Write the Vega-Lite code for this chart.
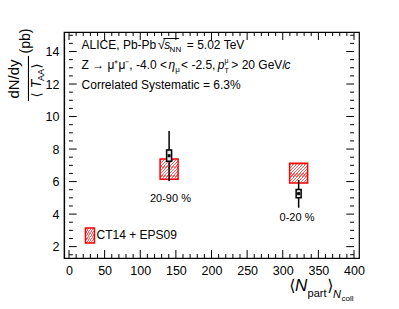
{
  "$schema": "https://vega.github.io/schema/vega-lite/v6.json",
  "width": 295,
  "height": 226,
  "autosize": {"type": "none"},
  "padding": {"left": 64, "top": 32, "right": 40, "bottom": 51},
  "background": "white",
  "config": {
    "view": {"stroke": "black", "strokeWidth": 1.2},
    "axis": {"grid": false, "domainColor": "black", "domainWidth": 1.2, "tickColor": "black", "labelColor": "black", "labelFont": "Liberation Sans", "labelFontSize": 12.5, "labelFlush": false, "labelOverlap": false}
  },
  "datasets": {
    "xmaj": [{"v": 0}, {"v": 50}, {"v": 100}, {"v": 150}, {"v": 200}, {"v": 250}, {"v": 300}, {"v": 350}, {"v": 400}],
    "xmin": [{"v": 10}, {"v": 20}, {"v": 30}, {"v": 40}, {"v": 60}, {"v": 70}, {"v": 80}, {"v": 90}, {"v": 110}, {"v": 120}, {"v": 130}, {"v": 140}, {"v": 160}, {"v": 170}, {"v": 180}, {"v": 190}, {"v": 210}, {"v": 220}, {"v": 230}, {"v": 240}, {"v": 260}, {"v": 270}, {"v": 280}, {"v": 290}, {"v": 310}, {"v": 320}, {"v": 330}, {"v": 340}, {"v": 360}, {"v": 370}, {"v": 380}, {"v": 390}],
    "ymaj": [{"v": 2}, {"v": 4}, {"v": 6}, {"v": 8}, {"v": 10}, {"v": 12}, {"v": 14}],
    "ymin": [{"v": 1.5}, {"v": 2.5}, {"v": 3}, {"v": 3.5}, {"v": 4.5}, {"v": 5}, {"v": 5.5}, {"v": 6.5}, {"v": 7}, {"v": 7.5}, {"v": 8.5}, {"v": 9}, {"v": 9.5}, {"v": 10.5}, {"v": 11}, {"v": 11.5}, {"v": 12.5}, {"v": 13}, {"v": 13.5}, {"v": 14.5}, {"v": 15}],
    "zdata": [
      {"cent": "20-90 %", "npart": 140.5, "dndy": 7.59, "stat_lo": 6.04, "stat_hi": 9.11, "sys_lo": 7.25, "sys_hi": 7.94, "model_lo": 6.14, "model_hi": 7.39},
      {"cent": "0-20 %", "npart": 322.3, "dndy": 5.26, "stat_lo": 4.39, "stat_hi": 6.10, "sys_lo": 5.01, "sys_hi": 5.52, "model_lo": 5.91, "model_hi": 7.12}
    ]
  },
  "data": {"name": "zdata"},
  "resolve": {"axis": {"x": "independent", "y": "independent"}},
  "layer": [
    {
      "mark": {"type": "bar", "size": 18, "stroke": "red", "strokeWidth": 1.5,
        "fill": {"gradient": "linear", "x1": 0, "y1": 0, "x2": 1, "y2": 1, "stops": [
          {"offset": 0, "color": "white"},
          {"offset": 0.0242, "color": "white"}, {"offset": 0.0242, "color": "#ff5a5a"}, {"offset": 0.0592, "color": "#ff5a5a"}, {"offset": 0.0592, "color": "white"},
          {"offset": 0.1075, "color": "white"}, {"offset": 0.1075, "color": "#ff5a5a"}, {"offset": 0.1425, "color": "#ff5a5a"}, {"offset": 0.1425, "color": "white"},
          {"offset": 0.1908, "color": "white"}, {"offset": 0.1908, "color": "#ff5a5a"}, {"offset": 0.2258, "color": "#ff5a5a"}, {"offset": 0.2258, "color": "white"},
          {"offset": 0.2742, "color": "white"}, {"offset": 0.2742, "color": "#ff5a5a"}, {"offset": 0.3092, "color": "#ff5a5a"}, {"offset": 0.3092, "color": "white"},
          {"offset": 0.3575, "color": "white"}, {"offset": 0.3575, "color": "#ff5a5a"}, {"offset": 0.3925, "color": "#ff5a5a"}, {"offset": 0.3925, "color": "white"},
          {"offset": 0.4408, "color": "white"}, {"offset": 0.4408, "color": "#ff5a5a"}, {"offset": 0.4758, "color": "#ff5a5a"}, {"offset": 0.4758, "color": "white"},
          {"offset": 0.5242, "color": "white"}, {"offset": 0.5242, "color": "#ff5a5a"}, {"offset": 0.5592, "color": "#ff5a5a"}, {"offset": 0.5592, "color": "white"},
          {"offset": 0.6075, "color": "white"}, {"offset": 0.6075, "color": "#ff5a5a"}, {"offset": 0.6425, "color": "#ff5a5a"}, {"offset": 0.6425, "color": "white"},
          {"offset": 0.6908, "color": "white"}, {"offset": 0.6908, "color": "#ff5a5a"}, {"offset": 0.7258, "color": "#ff5a5a"}, {"offset": 0.7258, "color": "white"},
          {"offset": 0.7742, "color": "white"}, {"offset": 0.7742, "color": "#ff5a5a"}, {"offset": 0.8092, "color": "#ff5a5a"}, {"offset": 0.8092, "color": "white"},
          {"offset": 0.8575, "color": "white"}, {"offset": 0.8575, "color": "#ff5a5a"}, {"offset": 0.8925, "color": "#ff5a5a"}, {"offset": 0.8925, "color": "white"},
          {"offset": 0.9408, "color": "white"}, {"offset": 0.9408, "color": "#ff5a5a"}, {"offset": 0.9758, "color": "#ff5a5a"}, {"offset": 0.9758, "color": "white"},
          {"offset": 1, "color": "white"}
        ]}},
      "encoding": {
        "x": {"field": "npart", "type": "quantitative", "scale": {"domain": [0, 400], "nice": false, "zero": false},
          "axis": {"orient": "bottom", "title": null, "values": [0, 50, 100, 150, 200, 250, 300, 350, 400], "ticks": false, "labelPadding": 6}},
        "y": {"field": "model_lo", "type": "quantitative", "scale": {"domain": [1.3, 15.2], "nice": false, "zero": false},
          "axis": {"orient": "left", "title": null, "values": [2, 4, 6, 8, 10, 12, 14], "ticks": false, "labelPadding": 5}},
        "y2": {"field": "model_hi"}
      }
    },
    {
      "data": {"name": "xmaj"},
      "mark": {"type": "rule", "color": "black", "strokeWidth": 1},
      "encoding": {"x": {"field": "v", "type": "quantitative", "axis": null}, "y": {"datum": 1.3, "type": "quantitative", "axis": null}, "y2": {"datum": 1.792}}
    },
    {
      "data": {"name": "xmaj"},
      "mark": {"type": "rule", "color": "black", "strokeWidth": 1},
      "encoding": {"x": {"field": "v", "type": "quantitative", "axis": null}, "y": {"datum": 15.2, "type": "quantitative", "axis": null}, "y2": {"datum": 14.708}}
    },
    {
      "data": {"name": "xmin"},
      "mark": {"type": "rule", "color": "black", "strokeWidth": 1},
      "encoding": {"x": {"field": "v", "type": "quantitative", "axis": null}, "y": {"datum": 1.3, "type": "quantitative", "axis": null}, "y2": {"datum": 1.546}}
    },
    {
      "data": {"name": "xmin"},
      "mark": {"type": "rule", "color": "black", "strokeWidth": 1},
      "encoding": {"x": {"field": "v", "type": "quantitative", "axis": null}, "y": {"datum": 15.2, "type": "quantitative", "axis": null}, "y2": {"datum": 14.954}}
    },
    {
      "data": {"name": "ymaj"},
      "mark": {"type": "rule", "color": "black", "strokeWidth": 1},
      "encoding": {"y": {"field": "v", "type": "quantitative", "axis": null}, "x": {"datum": 0, "type": "quantitative", "axis": null}, "x2": {"datum": 10.85}}
    },
    {
      "data": {"name": "ymaj"},
      "mark": {"type": "rule", "color": "black", "strokeWidth": 1},
      "encoding": {"y": {"field": "v", "type": "quantitative", "axis": null}, "x": {"datum": 400, "type": "quantitative", "axis": null}, "x2": {"datum": 389.15}}
    },
    {
      "data": {"name": "ymin"},
      "mark": {"type": "rule", "color": "black", "strokeWidth": 1},
      "encoding": {"y": {"field": "v", "type": "quantitative", "axis": null}, "x": {"datum": 0, "type": "quantitative", "axis": null}, "x2": {"datum": 5.42}}
    },
    {
      "data": {"name": "ymin"},
      "mark": {"type": "rule", "color": "black", "strokeWidth": 1},
      "encoding": {"y": {"field": "v", "type": "quantitative", "axis": null}, "x": {"datum": 400, "type": "quantitative", "axis": null}, "x2": {"datum": 394.58}}
    },
    {
      "mark": {"type": "rule", "color": "black", "strokeWidth": 1.5},
      "encoding": {"x": {"field": "npart", "type": "quantitative", "axis": null}, "y": {"field": "stat_lo", "type": "quantitative", "axis": null}, "y2": {"field": "stat_hi"}}
    },
    {
      "mark": {"type": "bar", "size": 5, "fill": "#e8e8e8", "stroke": "black", "strokeWidth": 1.5},
      "encoding": {"x": {"field": "npart", "type": "quantitative", "axis": null}, "y": {"field": "sys_lo", "type": "quantitative", "axis": null}, "y2": {"field": "sys_hi"}}
    },
    {
      "mark": {"type": "square", "size": 9, "color": "black", "filled": true, "opacity": 1},
      "encoding": {"x": {"field": "npart", "type": "quantitative", "axis": null}, "y": {"field": "dndy", "type": "quantitative", "axis": null}}
    },
    {
      "data": {"values": [{"t": "CT14 + EPS09"}]},
      "mark": {"type": "bar", "size": 9, "stroke": "red", "strokeWidth": 1.5,
        "fill": {"gradient": "linear", "x1": 0, "y1": 0, "x2": 1, "y2": 1, "stops": [
          {"offset": 0, "color": "white"},
          {"offset": 0.0335, "color": "white"}, {"offset": 0.0335, "color": "#ff5a5a"}, {"offset": 0.0915, "color": "#ff5a5a"}, {"offset": 0.0915, "color": "white"},
          {"offset": 0.1585, "color": "white"}, {"offset": 0.1585, "color": "#ff5a5a"}, {"offset": 0.2165, "color": "#ff5a5a"}, {"offset": 0.2165, "color": "white"},
          {"offset": 0.2835, "color": "white"}, {"offset": 0.2835, "color": "#ff5a5a"}, {"offset": 0.3415, "color": "#ff5a5a"}, {"offset": 0.3415, "color": "white"},
          {"offset": 0.4085, "color": "white"}, {"offset": 0.4085, "color": "#ff5a5a"}, {"offset": 0.4665, "color": "#ff5a5a"}, {"offset": 0.4665, "color": "white"},
          {"offset": 0.5335, "color": "white"}, {"offset": 0.5335, "color": "#ff5a5a"}, {"offset": 0.5915, "color": "#ff5a5a"}, {"offset": 0.5915, "color": "white"},
          {"offset": 0.6585, "color": "white"}, {"offset": 0.6585, "color": "#ff5a5a"}, {"offset": 0.7165, "color": "#ff5a5a"}, {"offset": 0.7165, "color": "white"},
          {"offset": 0.7835, "color": "white"}, {"offset": 0.7835, "color": "#ff5a5a"}, {"offset": 0.8415, "color": "#ff5a5a"}, {"offset": 0.8415, "color": "white"},
          {"offset": 0.9085, "color": "white"}, {"offset": 0.9085, "color": "#ff5a5a"}, {"offset": 0.9665, "color": "#ff5a5a"}, {"offset": 0.9665, "color": "white"},
          {"offset": 1, "color": "white"}
        ]}},
      "encoding": {"x": {"datum": 29.4, "type": "quantitative", "axis": null}, "y": {"datum": 2.223, "type": "quantitative", "axis": null}, "y2": {"datum": 3.145}}
    },
    {
      "data": {"values": [{"t": "CT14 + EPS09"}]},
      "mark": {"type": "text", "align": "left", "baseline": "middle", "font": "Liberation Sans", "fontSize": 12, "color": "black"},
      "encoding": {"x": {"datum": 38.6, "type": "quantitative", "axis": null}, "y": {"datum": 2.684, "type": "quantitative", "axis": null}, "text": {"field": "t"}}
    },
    {
      "data": {"values": [{"t": "20-90 %"}]},
      "mark": {"type": "text", "align": "center", "baseline": "middle", "font": "Liberation Sans", "fontSize": 11, "color": "black"},
      "encoding": {"x": {"datum": 142.4, "type": "quantitative", "axis": null}, "y": {"datum": 4.929, "type": "quantitative", "axis": null}, "text": {"field": "t"}}
    },
    {
      "data": {"values": [{"t": "0-20 %"}]},
      "mark": {"type": "text", "align": "center", "baseline": "middle", "font": "Liberation Sans", "fontSize": 11, "color": "black"},
      "encoding": {"x": {"datum": 320.0, "type": "quantitative", "axis": null}, "y": {"datum": 3.76, "type": "quantitative", "axis": null}, "text": {"field": "t"}}
    },
    {
      "data": {"values": [{"t": "ALICE, Pb-Pb"}]},
      "mark": {"type": "text", "align": "left", "baseline": "alphabetic", "font": "Liberation Sans", "fontSize": 12, "color": "black"},
      "encoding": {"x": {"datum": 17.6, "type": "quantitative", "axis": null}, "y": {"datum": 14.154, "type": "quantitative", "axis": null}, "text": {"field": "t"}}
    },
    {
      "data": {"values": [{"t": "√"}]},
      "mark": {"type": "text", "align": "left", "baseline": "alphabetic", "font": "Liberation Sans", "fontSize": 13, "color": "black"},
      "encoding": {"x": {"datum": 124.7, "type": "quantitative", "axis": null}, "y": {"datum": 14.154, "type": "quantitative", "axis": null}, "text": {"field": "t"}}
    },
    {
      "data": {"values": [{"t": "s"}]},
      "mark": {"type": "text", "align": "left", "baseline": "alphabetic", "font": "Liberation Sans", "fontSize": 12, "fontStyle": "italic", "color": "black"},
      "encoding": {"x": {"datum": 133.8, "type": "quantitative", "axis": null}, "y": {"datum": 14.154, "type": "quantitative", "axis": null}, "text": {"field": "t"}}
    },
    {
      "data": {"values": [{"t": "NN"}]},
      "mark": {"type": "text", "align": "left", "baseline": "alphabetic", "font": "Liberation Sans", "fontSize": 8, "color": "black"},
      "encoding": {"x": {"datum": 141.2, "type": "quantitative", "axis": null}, "y": {"datum": 13.97, "type": "quantitative", "axis": null}, "text": {"field": "t"}}
    },
    {
      "mark": {"type": "rule", "color": "black", "strokeWidth": 0.8},
      "encoding": {"x": {"datum": 132.8, "type": "quantitative", "axis": null}, "x2": {"datum": 154.5}, "y": {"datum": 14.80, "type": "quantitative", "axis": null}}
    },
    {
      "data": {"values": [{"t": "= 5.02 TeV"}]},
      "mark": {"type": "text", "align": "left", "baseline": "alphabetic", "font": "Liberation Sans", "fontSize": 12, "color": "black"},
      "encoding": {"x": {"datum": 165.4, "type": "quantitative", "axis": null}, "y": {"datum": 14.154, "type": "quantitative", "axis": null}, "text": {"field": "t"}}
    },
    {
      "data": {"values": [{"t": "Z → μ⁺μ⁻, -4.0 <"}]},
      "mark": {"type": "text", "align": "left", "baseline": "alphabetic", "font": "Liberation Sans", "fontSize": 12, "color": "black"},
      "encoding": {"x": {"datum": 17.6, "type": "quantitative", "axis": null}, "y": {"datum": 12.924, "type": "quantitative", "axis": null}, "text": {"field": "t"}}
    },
    {
      "data": {"values": [{"t": "η"}]},
      "mark": {"type": "text", "align": "left", "baseline": "alphabetic", "font": "Liberation Sans", "fontSize": 12, "fontStyle": "italic", "color": "black"},
      "encoding": {"x": {"datum": 139.7, "type": "quantitative", "axis": null}, "y": {"datum": 12.924, "type": "quantitative", "axis": null}, "text": {"field": "t"}}
    },
    {
      "data": {"values": [{"t": "μ"}]},
      "mark": {"type": "text", "align": "left", "baseline": "alphabetic", "font": "Liberation Sans", "fontSize": 8, "color": "black"},
      "encoding": {"x": {"datum": 149.2, "type": "quantitative", "axis": null}, "y": {"datum": 12.74, "type": "quantitative", "axis": null}, "text": {"field": "t"}}
    },
    {
      "data": {"values": [{"t": "< -2.5,"}]},
      "mark": {"type": "text", "align": "left", "baseline": "alphabetic", "font": "Liberation Sans", "fontSize": 12, "color": "black"},
      "encoding": {"x": {"datum": 157.3, "type": "quantitative", "axis": null}, "y": {"datum": 12.924, "type": "quantitative", "axis": null}, "text": {"field": "t"}}
    },
    {
      "data": {"values": [{"t": "p"}]},
      "mark": {"type": "text", "align": "left", "baseline": "alphabetic", "font": "Liberation Sans", "fontSize": 12, "fontStyle": "italic", "color": "black"},
      "encoding": {"x": {"datum": 208.8, "type": "quantitative", "axis": null}, "y": {"datum": 12.924, "type": "quantitative", "axis": null}, "text": {"field": "t"}}
    },
    {
      "data": {"values": [{"t": "T"}]},
      "mark": {"type": "text", "align": "left", "baseline": "alphabetic", "font": "Liberation Sans", "fontSize": 7, "color": "black"},
      "encoding": {"x": {"datum": 218.3, "type": "quantitative", "axis": null}, "y": {"datum": 12.678, "type": "quantitative", "axis": null}, "text": {"field": "t"}}
    },
    {
      "data": {"values": [{"t": "μ"}]},
      "mark": {"type": "text", "align": "left", "baseline": "alphabetic", "font": "Liberation Sans", "fontSize": 7, "color": "black"},
      "encoding": {"x": {"datum": 218.3, "type": "quantitative", "axis": null}, "y": {"datum": 13.293, "type": "quantitative", "axis": null}, "text": {"field": "t"}}
    },
    {
      "data": {"values": [{"t": "> 20 GeV/"}]},
      "mark": {"type": "text", "align": "left", "baseline": "alphabetic", "font": "Liberation Sans", "fontSize": 12, "color": "black"},
      "encoding": {"x": {"datum": 227.8, "type": "quantitative", "axis": null}, "y": {"datum": 12.924, "type": "quantitative", "axis": null}, "text": {"field": "t"}}
    },
    {
      "data": {"values": [{"t": "c"}]},
      "mark": {"type": "text", "align": "left", "baseline": "alphabetic", "font": "Liberation Sans", "fontSize": 12, "fontStyle": "italic", "color": "black"},
      "encoding": {"x": {"datum": 302.6, "type": "quantitative", "axis": null}, "y": {"datum": 12.924, "type": "quantitative", "axis": null}, "text": {"field": "t"}}
    },
    {
      "data": {"values": [{"t": "Correlated Systematic = 6.3%"}]},
      "mark": {"type": "text", "align": "left", "baseline": "alphabetic", "font": "Liberation Sans", "fontSize": 12, "color": "black"},
      "encoding": {"x": {"datum": 17.6, "type": "quantitative", "axis": null}, "y": {"datum": 11.694, "type": "quantitative", "axis": null}, "text": {"field": "t"}}
    },
    {
      "data": {"values": [{"t": "dN/dy"}]},
      "mark": {"type": "text", "align": "center", "baseline": "alphabetic", "angle": 270, "font": "Liberation Sans", "fontSize": 15, "color": "black"},
      "encoding": {"x": {"datum": -70.5, "type": "quantitative", "axis": null}, "y": {"datum": 12.31, "type": "quantitative", "axis": null}, "text": {"field": "t"}}
    },
    {
      "data": {"values": [{"t": "(pb)"}]},
      "mark": {"type": "text", "align": "center", "baseline": "alphabetic", "angle": 270, "font": "Liberation Sans", "fontSize": 14, "color": "black"},
      "encoding": {"x": {"datum": -54.2, "type": "quantitative", "axis": null}, "y": {"datum": 14.646, "type": "quantitative", "axis": null}, "text": {"field": "t"}}
    },
    {
      "mark": {"type": "rule", "color": "black", "strokeWidth": 1},
      "encoding": {"x": {"datum": -56.9, "type": "quantitative", "axis": null}, "y": {"datum": 13.724, "type": "quantitative", "axis": null}, "y2": {"datum": 10.956}}
    },
    {
      "data": {"values": [{"t": "⟨"}]},
      "mark": {"type": "text", "align": "center", "baseline": "alphabetic", "angle": 270, "font": "DejaVu Sans", "fontSize": 13, "color": "black"},
      "encoding": {"x": {"datum": -39.3, "type": "quantitative", "axis": null}, "y": {"datum": 11.325, "type": "quantitative", "axis": null}, "text": {"field": "t"}}
    },
    {
      "data": {"values": [{"t": "T"}]},
      "mark": {"type": "text", "align": "center", "baseline": "alphabetic", "angle": 270, "font": "Liberation Sans", "fontSize": 14, "fontStyle": "italic", "color": "black"},
      "encoding": {"x": {"datum": -39.3, "type": "quantitative", "axis": null}, "y": {"datum": 12.002, "type": "quantitative", "axis": null}, "text": {"field": "t"}}
    },
    {
      "data": {"values": [{"t": "AA"}]},
      "mark": {"type": "text", "align": "center", "baseline": "alphabetic", "angle": 270, "font": "Liberation Sans", "fontSize": 9, "color": "black"},
      "encoding": {"x": {"datum": -35.3, "type": "quantitative", "axis": null}, "y": {"datum": 12.555, "type": "quantitative", "axis": null}, "text": {"field": "t"}}
    },
    {
      "data": {"values": [{"t": "⟩"}]},
      "mark": {"type": "text", "align": "center", "baseline": "alphabetic", "angle": 270, "font": "DejaVu Sans", "fontSize": 13, "color": "black"},
      "encoding": {"x": {"datum": -39.3, "type": "quantitative", "axis": null}, "y": {"datum": 13.109, "type": "quantitative", "axis": null}, "text": {"field": "t"}}
    },
    {
      "data": {"values": [{"t": "⟨"}]},
      "mark": {"type": "text", "align": "left", "baseline": "alphabetic", "font": "DejaVu Sans", "fontSize": 16, "color": "black"},
      "encoding": {"x": {"datum": 309.2, "type": "quantitative", "axis": null}, "y": {"datum": -0.72, "type": "quantitative", "axis": null}, "text": {"field": "t"}}
    },
    {
      "data": {"values": [{"t": "N"}]},
      "mark": {"type": "text", "align": "left", "baseline": "alphabetic", "font": "Liberation Sans", "fontSize": 17, "fontStyle": "italic", "color": "black"},
      "encoding": {"x": {"datum": 317.3, "type": "quantitative", "axis": null}, "y": {"datum": -0.72, "type": "quantitative", "axis": null}, "text": {"field": "t"}}
    },
    {
      "data": {"values": [{"t": "part"}]},
      "mark": {"type": "text", "align": "left", "baseline": "alphabetic", "font": "Liberation Sans", "fontSize": 11, "color": "black"},
      "encoding": {"x": {"datum": 334.9, "type": "quantitative", "axis": null}, "y": {"datum": -1.09, "type": "quantitative", "axis": null}, "text": {"field": "t"}}
    },
    {
      "data": {"values": [{"t": "⟩"}]},
      "mark": {"type": "text", "align": "left", "baseline": "alphabetic", "font": "DejaVu Sans", "fontSize": 16, "color": "black"},
      "encoding": {"x": {"datum": 362.5, "type": "quantitative", "axis": null}, "y": {"datum": -0.72, "type": "quantitative", "axis": null}, "text": {"field": "t"}}
    },
    {
      "data": {"values": [{"t": "N"}]},
      "mark": {"type": "text", "align": "left", "baseline": "alphabetic", "font": "Liberation Sans", "fontSize": 11, "fontStyle": "italic", "color": "black"},
      "encoding": {"x": {"datum": 370.5, "type": "quantitative", "axis": null}, "y": {"datum": -1.15, "type": "quantitative", "axis": null}, "text": {"field": "t"}}
    },
    {
      "data": {"values": [{"t": "coll"}]},
      "mark": {"type": "text", "align": "left", "baseline": "alphabetic", "font": "Liberation Sans", "fontSize": 8, "color": "black"},
      "encoding": {"x": {"datum": 382.5, "type": "quantitative", "axis": null}, "y": {"datum": -1.33, "type": "quantitative", "axis": null}, "text": {"field": "t"}}
    }
  ]
}
